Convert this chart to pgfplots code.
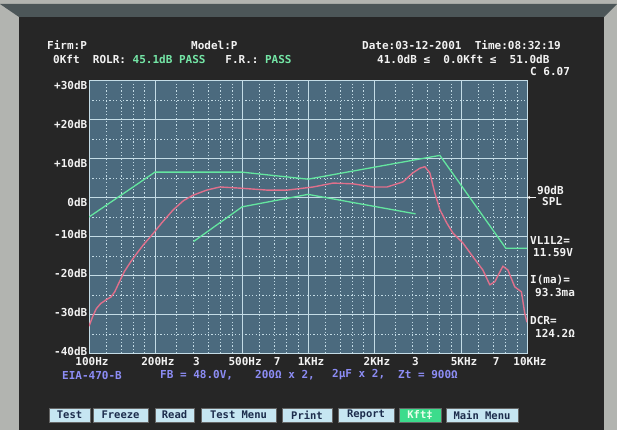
\documentclass[border=0pt]{standalone}
\usepackage{fontspec}
\setmainfont{DejaVu Sans Mono}
\usepackage{pgfplots}
\pgfplotsset{compat=1.18}
\usetikzlibrary{arrows.meta}
\definecolor{bezel}{HTML}{B2B4B0}
\definecolor{bezeltop}{HTML}{4C5658}
\definecolor{screen}{HTML}{262626}
\definecolor{plotbg}{HTML}{4B6A7E}
\definecolor{gridc}{HTML}{C4DCE6}
\definecolor{curvered}{HTML}{E0708C}
\definecolor{curvegreen}{HTML}{64E6A0}
\definecolor{txtw}{HTML}{F2F2F2}
\definecolor{txtg}{HTML}{74E6A6}
\definecolor{txtb}{HTML}{8C8CF4}
\definecolor{btn}{HTML}{C6E6F2}
\definecolor{btng}{HTML}{3CDC8C}
\definecolor{btntxt}{HTML}{1C2C4C}
\newcommand{\dos}{\fontsize{11}{12}\selectfont\bfseries}
\newcommand{\btnf}{\fontsize{10.5}{12}\selectfont\bfseries}
\begin{document}
\begin{tikzpicture}[x=1pt,y=1pt]
\useasboundingbox (0,0) rectangle (617,430);
\fill[bezel] (0,0) rectangle (617,430);
\fill[bezeltop] (0,426) -- (617,426) -- (604,413) -- (19,413) -- cycle;
\fill[screen] (19,0) rectangle (604,413);

\begin{axis}[
  at={(89pt,76.5pt)}, anchor=south west,
  width=438pt, height=273pt, scale only axis,
  xmode=log, log basis x=10,
  xmin=100, xmax=10000, ymin=-40, ymax=30,
  axis background/.style={fill=plotbg},
  axis line style={draw=gridc, line width=0.9pt},
  xtick={100,200,300,500,700,1000,2000,3000,5000,7000,10000},
  xticklabels={100Hz,200Hz,3,500Hz,7,1KHz,2KHz,3,5KHz,7,10KHz},
  ytick={0,10,20,30},
  yticklabels={0dB,+10dB,+20dB,+30dB},
  extra y ticks={-40,-30,-20,-10},
  extra y tick labels={-40dB,-30dB,-20dB,-10dB},
  extra y tick style={ymajorgrids=true, yticklabel style={yshift=7pt}},
  minor xtick={120,140,160,180,250,300,350,400,450,600,700,800,900,1200,1400,1600,1800,2500,3000,3500,4000,4500,6000,7000,8000,9000},
  minor ytick={-35,-25,-15,-5,5,15,25},
  extra x ticks={200,500,1000,2000,5000},
  extra x tick labels={},
  extra x tick style={xmajorgrids=true},
  ymajorgrids, xminorgrids, yminorgrids,
  major grid style={draw=gridc, line width=0.8pt},
  minor grid style={draw=gridc, line width=0.9pt, dash pattern=on 1.2pt off 2.2pt},
  tick style={draw=none},
  tick label style={font=\dos, text=txtw},
  x tick label style={xshift=3pt},
  y tick label style={inner xsep=1.5pt},
  yticklabel style={yshift=-4.5pt},
]
% upper template (green)
\addplot[curvegreen, line width=1.3pt] coordinates {
 (100,-5) (200,6.5) (500,6.5) (1000,4.7) (4000,10.8) (8000,-13) (10000,-13)};
% lower template (green)
\addplot[curvegreen, line width=1.3pt] coordinates {
 (300,-11.3) (500,-2.4) (1000,0.8) (3100,-4.2)};
% measured response (red)
\addplot[curvered, line width=1.4pt, line join=round] coordinates {
 (100,-33) (104,-30.5) (108,-28.5) (113,-27.2) (120,-26.2) (126,-25.5)
 (131,-24.2) (138,-21.5) (145,-19) (155,-16.5) (166,-14.2) (178,-12)
 (194,-9.6) (215,-6.5) (242,-3.2) (270,-0.8) (299,0.6) (345,1.9)
 (396,2.7) (489,2.4) (649,1.9) (806,1.9) (1057,2.7) (1303,3.7)
 (1607,3.5) (1982,2.7) (2297,2.7) (2716,4.0) (3009,6.3) (3240,7.5)
 (3418,7.9) (3601,6.3) (3796,1.1) (4007,-3.2) (4297,-6.5) (4588,-9.1)
 (5101,-11.7) (5664,-15.2) (6287,-18.6) (6764,-22.4) (7131,-21.6)
 (7760,-17.6) (8180,-18.6) (8790,-22.9) (9430,-24.2) (9760,-29.6) (10000,-32)};
\end{axis}

% header
\begin{scope}[every node/.style={anchor=west, inner sep=0pt, font=\dos, text=txtw}]
\node at (47,385) {Firm:P};
\node at (191,385) {Model:P};
\node at (362,385) {Date:03-12-2001~~Time:08:32:19};
\node at (53,371) {0Kft~~ROLR:~\textcolor{txtg}{45.1dB~PASS}~~~F.R.:~\textcolor{txtg}{PASS}};
\node at (377,371) {41.0dB~≤~~0.0Kft~≤~~51.0dB};
\node at (530,358) {C 6.07};
% right column
\node at (537,240) {90dB};
\node at (542,228) {SPL};
\node at (530,190) {VL1L2=};
\node at (533,177) {11.59V};
\node at (530,150) {I(ma)=};
\node at (535,137) {93.3ma};
\node at (530,110) {DCR=};
\node at (535,97) {124.2Ω};
\end{scope}
\draw[txtw, line width=0.8pt, -{Stealth[length=3pt,width=3pt]}] (536,232.5) -- (527,232.5);

% bottom info line
\begin{scope}[every node/.style={anchor=west, inner sep=0pt, font=\dos, text=txtb}]
\node at (62,55) {EIA-470-B};
\node at (160,55) {FB = 48.0V,};
\node at (255,55) {200Ω x 2,};
\node at (332,55) {2μF x 2,};
\node at (398,55) {Zt = 900Ω};
\end{scope}

% buttons
\begin{scope}[every node/.style={fill=btn, draw=black!60, line width=0.6pt, minimum height=14pt, inner sep=0pt, font=\btnf, text=btntxt}]
\node[minimum width=41pt] at (69.5,15) {Test};
\node[minimum width=55pt] at (120.5,15) {Freeze};
\node[minimum width=39pt] at (174.5,15) {Read};
\node[minimum width=75pt] at (238.5,15) {Test Menu};
\node[minimum width=50pt] at (307,15) {Print};
\node[minimum width=56pt] at (366,15) {Report};
\node[minimum width=42pt, fill=btng, text=white!92!green] at (420,15) {Kft‡};
\node[minimum width=72pt] at (482,15) {Main Menu};
\end{scope}
\end{tikzpicture}
\end{document}
